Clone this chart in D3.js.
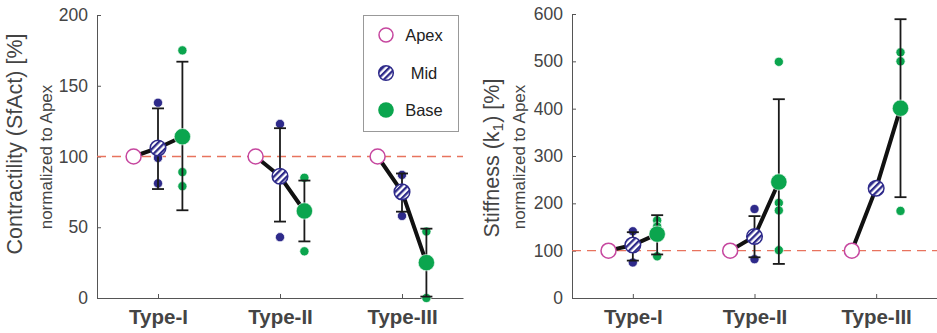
<!DOCTYPE html>
<html><head><meta charset="utf-8">
<script src="https://cdn.jsdelivr.net/npm/d3@7/dist/d3.min.js"></script>
<style>
html,body{margin:0;padding:0;background:#fff;}
svg{display:block;font-family:"Liberation Sans",Arial,sans-serif;}
</style></head>
<body>
<svg id="chart" width="937" height="333"></svg>
<script>
// ---------- data ----------
const categories = ["Type-I", "Type-II", "Type-III"];
const regions = ["Apex", "Mid", "Base"];

// Contractility (SfAct) [%], normalized to Apex
const contrApex = [100, 100, 100];
const contrMidMean = [106, 86, 75];
const contrMidLow = [77, 54, 61];
const contrMidHigh = [134, 120, 88];
const contrMidPts = [[138, 99, 81], [123, 43], [87, 58]];
const contrBaseMean = [114, 61.5, 25];
const contrBaseLow = [62, 40, 1];
const contrBaseHigh = [167, 83, 49];
const contrBasePts = [[175, 89, 79], [85, 33], [47, 0]];

// Stiffness (k1) [%], normalized to Apex
const stiffApex = [100, 100, 100];
const stiffMidMean = [112, 130, 232];
const stiffMidLow = [79, 86, null];
const stiffMidHigh = [139, 173, null];
const stiffMidPts = [[141, 75], [188, 82], []];
const stiffBaseMean = [135, 245, 401];
const stiffBaseLow = [92, 72, 213];
const stiffBaseHigh = [175, 420, 589];
const stiffBasePts = [[164, 151, 88], [499, 201, 185, 101], [519, 500, 184]];

const contrTicks = [0, 50, 100, 150, 200];
const stiffTicks = [0, 100, 200, 300, 400, 500, 600];

// ---------- styles ----------
const cApex = "#c6479f", cMid = "#2e2a8a", cBase = "#0ba54e";
const axisCol = "#555", textCol = "#444";

const svg = d3.select("#chart");
const defs = svg.append("defs");
const pat = defs.append("pattern").attr("id", "hatch")
  .attr("patternUnits", "userSpaceOnUse").attr("width", 4.6).attr("height", 4.6)
  .attr("patternTransform", "rotate(45)");
pat.append("rect").attr("width", 4.6).attr("height", 4.6).attr("fill", "#fff");
pat.append("rect").attr("x", 0).attr("y", 0).attr("width", 2.3).attr("height", 4.6).attr("fill", cMid);

function panel(opt) {
  const x = d3.scaleLinear().domain([0.5, 3.5]).range(opt.xr);
  const y = d3.scaleLinear().domain(opt.ydom).range([298, opt.ytop]);
  const g = svg.append("g");
  const off = 0.2;
  const xpos = (i, k) => x(i + 1 + (k - 1) * off);

  // axes
  const ya = g.append("g").attr("transform", `translate(${opt.xr[0]},0)`)
    .call(d3.axisLeft(y).tickValues(opt.ticks).tickSize(-4).tickSizeOuter(0).tickPadding(9));
  ya.select(".domain").attr("stroke", axisCol);
  ya.selectAll(".tick line").attr("stroke", axisCol);
  ya.selectAll(".tick text").attr("fill", textCol).style("font-size", "17.5px")
    .style("font-family", "Liberation Sans, Arial, sans-serif");

  const xa = g.append("g").attr("transform", `translate(0,298)`)
    .call(d3.axisBottom(x).tickValues([1, 2, 3]).tickFormat((d, i) => categories[i])
      .tickSize(-4).tickSizeOuter(0).tickPadding(11.5));
  xa.select(".domain").attr("stroke", axisCol);
  xa.selectAll(".tick line").attr("stroke", axisCol);
  xa.selectAll(".tick text").attr("fill", textCol).style("font-size", "20.5px")
    .style("font-weight", "bold").style("font-family", "Liberation Sans, Arial, sans-serif");

  // axis titles
  g.append("text").attr("transform", `translate(${opt.titleX},${opt.titleY}) rotate(-90)`)
    .attr("text-anchor", "middle").attr("fill", textCol).style("font-size", "21.5px")
    .call(opt.titleFn);
  g.append("text").attr("transform", `translate(${opt.subX},${opt.subY}) rotate(-90)`)
    .attr("text-anchor", "middle").attr("fill", textCol).style("font-size", "17px")
    .text("normalized to Apex");

  // reference line at 100
  g.append("line").attr("x1", opt.xr[0]).attr("x2", opt.xr[1])
    .attr("y1", y(100)).attr("y2", y(100))
    .attr("stroke", "#e8735e").attr("stroke-width", 1.3).attr("stroke-dasharray", "9,6");

  // individual points
  const ptsData = [];
  opt.midPts.forEach((arr, i) => arr.forEach(v => ptsData.push({x: xpos(i, 1), v, c: cMid})));
  opt.basePts.forEach((arr, i) => arr.forEach(v => ptsData.push({x: xpos(i, 2), v, c: cBase})));
  g.selectAll(".pt").data(ptsData).join("circle").attr("class", "pt")
    .attr("cx", d => d.x).attr("cy", d => y(d.v)).attr("r", 4.6)
    .attr("fill", d => d.c).attr("stroke", "#fff").attr("stroke-width", 0.7);

  // error bars
  const eb = [];
  categories.forEach((c, i) => {
    if (opt.midLow[i] != null) eb.push({x: xpos(i, 1), lo: opt.midLow[i], hi: opt.midHigh[i]});
    if (opt.baseLow[i] != null) eb.push({x: xpos(i, 2), lo: opt.baseLow[i], hi: opt.baseHigh[i]});
  });
  const ebg = g.selectAll(".eb").data(eb).join("g").attr("class", "eb")
    .attr("stroke", "#1a1a1a").attr("stroke-width", 1.8);
  ebg.append("line").attr("x1", d => d.x).attr("x2", d => d.x)
    .attr("y1", d => y(d.lo)).attr("y2", d => y(d.hi));
  ebg.append("line").attr("x1", d => d.x - 6).attr("x2", d => d.x + 6)
    .attr("y1", d => y(d.lo)).attr("y2", d => y(d.lo));
  ebg.append("line").attr("x1", d => d.x - 6).attr("x2", d => d.x + 6)
    .attr("y1", d => y(d.hi)).attr("y2", d => y(d.hi));

  // connecting lines
  const line = d3.line().x(d => d[0]).y(d => y(d[1]));
  categories.forEach((c, i) => {
    g.append("path").attr("d", line([[xpos(i, 0), opt.apex[i]], [xpos(i, 1), opt.midMean[i]], [xpos(i, 2), opt.baseMean[i]]]))
      .attr("fill", "none").attr("stroke", "#111").attr("stroke-width", 4);
  });

  // mean markers
  categories.forEach((c, i) => {
    g.append("circle").attr("cx", xpos(i, 0)).attr("cy", y(opt.apex[i])).attr("r", 7.5)
      .attr("fill", "#fff").attr("stroke", cApex).attr("stroke-width", 1.5);
    g.append("circle").attr("cx", xpos(i, 1)).attr("cy", y(opt.midMean[i])).attr("r", 7.8)
      .attr("fill", "url(#hatch)").attr("stroke", cMid).attr("stroke-width", 1.5);
    g.append("circle").attr("cx", xpos(i, 2)).attr("cy", y(opt.baseMean[i])).attr("r", 8.2)
      .attr("fill", cBase).attr("stroke", "#fff").attr("stroke-width", 0.6);
  });
}

panel({
  xr: [97, 463], ydom: [0, 200], ytop: 15, ticks: contrTicks,
  apex: contrApex, midMean: contrMidMean, midLow: contrMidLow, midHigh: contrMidHigh, midPts: contrMidPts,
  baseMean: contrBaseMean, baseLow: contrBaseLow, baseHigh: contrBaseHigh, basePts: contrBasePts,
  titleX: 22, titleY: 144, subX: 52, subY: 157,
  titleFn: t => t.text("Contractility (SfAct) [%]")
});

panel({
  xr: [572, 937], ydom: [0, 600], ytop: 14, ticks: stiffTicks,
  apex: stiffApex, midMean: stiffMidMean, midLow: stiffMidLow, midHigh: stiffMidHigh, midPts: stiffMidPts,
  baseMean: stiffBaseMean, baseLow: stiffBaseLow, baseHigh: stiffBaseHigh, basePts: stiffBasePts,
  titleX: 499, titleY: 158, subX: 525, subY: 157,
  titleFn: t => {
    t.append("tspan").text("Stiffness (k");
    t.append("tspan").attr("dy", 4).style("font-size", "15.5px").text("1");
    t.append("tspan").attr("dy", -4).text(") [%]");
  }
});

// legend
const lg = svg.append("g");
lg.append("rect").attr("x", 363.5).attr("y", 15.5).attr("width", 95).attr("height", 116)
  .attr("fill", "#fff").attr("stroke", "#999").attr("stroke-width", 1);
const legY = [35, 73, 110];
regions.forEach((r, i) => {
  const cy = legY[i];
  if (r === "Apex") lg.append("circle").attr("cx", 386).attr("cy", cy).attr("r", 7)
    .attr("fill", "#fff").attr("stroke", cApex).attr("stroke-width", 1.5);
  if (r === "Mid") lg.append("circle").attr("cx", 386).attr("cy", cy).attr("r", 7.3)
    .attr("fill", "url(#hatch)").attr("stroke", cMid).attr("stroke-width", 1.5);
  if (r === "Base") lg.append("circle").attr("cx", 386).attr("cy", cy).attr("r", 7.8)
    .attr("fill", cBase);
  lg.append("text").attr("x", 424).attr("y", cy).attr("dy", "0.35em").attr("text-anchor", "middle")
    .attr("fill", "#222").style("font-size", "16.5px").text(r);
});
</script>
</body></html>
